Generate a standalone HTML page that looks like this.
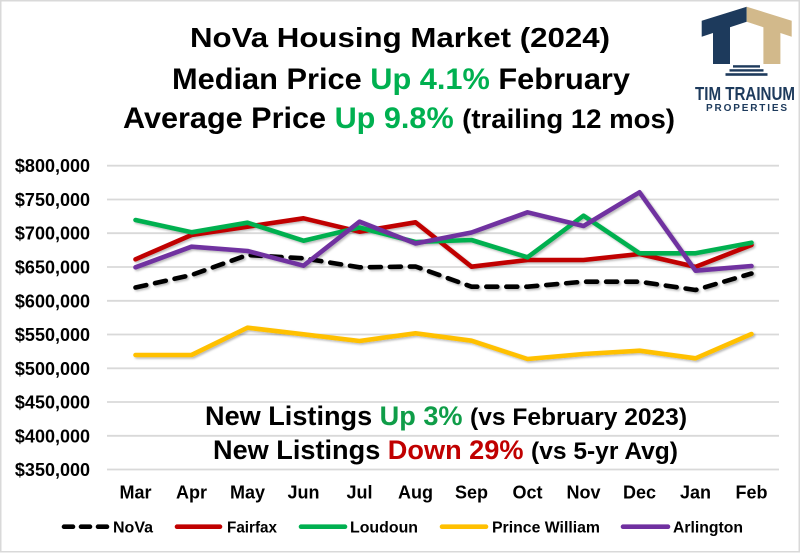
<!DOCTYPE html>
<html><head><meta charset="utf-8"><style>
html,body{margin:0;padding:0;background:#fff;}
svg{display:block;}
text{font-family:"Liberation Sans",Arial,sans-serif;font-weight:bold;}
</style></head><body>
<svg width="800" height="553" viewBox="0 0 800 553" xmlns="http://www.w3.org/2000/svg">
<defs>
<filter id="sh" x="-5%" y="-20%" width="110%" height="140%">
<feDropShadow dx="1.5" dy="1.5" stdDeviation="1" flood-color="#000" flood-opacity="0.28"/>
</filter>
</defs>
<rect x="0.75" y="0.75" width="798.5" height="551" fill="#fff" stroke="#d9d9d9" stroke-width="1.5"/>

<!-- Title -->
<text x="190" y="47" font-size="28" fill="#000" textLength="420" lengthAdjust="spacingAndGlyphs">NoVa Housing Market (2024)</text>
<text x="172" y="89" font-size="30" fill="#000" textLength="458" lengthAdjust="spacingAndGlyphs">Median Price <tspan fill="#00b050">Up 4.1%</tspan> February</text>
<text x="123" y="128" font-size="30" fill="#000" textLength="552" lengthAdjust="spacingAndGlyphs">Average Price <tspan fill="#00b050">Up 9.8%</tspan> <tspan font-size="27">(trailing 12 mos)</tspan></text>

<!-- Logo -->
<polygon points="701.7,20.7 746.7,6.7 746.7,21.7 730,27.3 730,64 713,64 713,33 701.7,36.7" fill="#1d3a5c"/>
<polygon points="791.7,20.7 746.7,6.7 746.7,21.7 763.4,27.3 763.4,64 780.4,64 780.4,33 791.7,36.7" fill="#d2b98b"/>
<rect x="733" y="65.2" width="27" height="2.4" fill="#1d3a5c"/>
<rect x="729.5" y="69.2" width="34" height="2.4" fill="#1d3a5c"/>
<rect x="725.5" y="73.2" width="42" height="2.6" fill="#1d3a5c"/>
<text x="695" y="100" font-size="18" fill="#1d3a5c" textLength="100" lengthAdjust="spacingAndGlyphs">TIM TRAINUM</text>
<text x="706" y="111" font-size="10" fill="#1d3a5c" textLength="81" lengthAdjust="spacing">PROPERTIES</text>

<!-- Gridlines -->
<g stroke="#d9d9d9" stroke-width="1.8">
<line x1="107" x2="779" y1="165.7" y2="165.7"/>
<line x1="107" x2="779" y1="199.5" y2="199.5"/>
<line x1="107" x2="779" y1="233.2" y2="233.2"/>
<line x1="107" x2="779" y1="267.0" y2="267.0"/>
<line x1="107" x2="779" y1="300.8" y2="300.8"/>
<line x1="107" x2="779" y1="334.5" y2="334.5"/>
<line x1="107" x2="779" y1="368.3" y2="368.3"/>
<line x1="107" x2="779" y1="402.0" y2="402.0"/>
<line x1="107" x2="779" y1="435.8" y2="435.8"/>
<line x1="107" x2="779" y1="469.5" y2="469.5"/>
</g>

<!-- Y labels -->
<g font-size="18" fill="#000" text-anchor="end">
<text x="90" y="172.2">$800,000</text>
<text x="90" y="206.0">$750,000</text>
<text x="90" y="239.7">$700,000</text>
<text x="90" y="273.5">$650,000</text>
<text x="90" y="307.3">$600,000</text>
<text x="90" y="341.0">$550,000</text>
<text x="90" y="374.8">$500,000</text>
<text x="90" y="408.5">$450,000</text>
<text x="90" y="442.3">$400,000</text>
<text x="90" y="476.0">$350,000</text>
</g>

<!-- X labels -->
<g font-size="18" fill="#000" text-anchor="middle">
<text x="135.5" y="498.5">Mar</text>
<text x="191.5" y="498.5">Apr</text>
<text x="247.5" y="498.5">May</text>
<text x="303.5" y="498.5">Jun</text>
<text x="359.5" y="498.5">Jul</text>
<text x="415.5" y="498.5">Aug</text>
<text x="471.5" y="498.5">Sep</text>
<text x="527.5" y="498.5">Oct</text>
<text x="583.5" y="498.5">Nov</text>
<text x="639.5" y="498.5">Dec</text>
<text x="695.5" y="498.5">Jan</text>
<text x="751.5" y="498.5">Feb</text>
</g>

<!-- Series -->
<g fill="none" stroke-width="4.6" stroke-linejoin="round" filter="url(#sh)">
<polyline stroke="#000" stroke-dasharray="11 9" stroke-linecap="round" points="135.5,287.5 191.5,275 247.5,255 303.5,258.3 359.5,267.3 415.5,266.5 471.5,286.7 527.5,286.7 583.5,281.7 639.5,281.7 695.5,290 751.5,273.5"/>
<polyline stroke="#c00000" stroke-linecap="round" points="135.5,259.3 191.5,235 247.5,226.7 303.5,218.3 359.5,231.7 415.5,222.3 471.5,266.7 527.5,260 583.5,260 639.5,254 695.5,266.9 751.5,245"/>
<polyline stroke="#00b050" stroke-linecap="round" points="135.5,220 191.5,232.3 247.5,222.7 303.5,240.7 359.5,227.5 415.5,242 471.5,240 527.5,257.3 583.5,215.7 639.5,253.3 695.5,253.3 751.5,242.7"/>
<polyline stroke="#ffc000" stroke-linecap="round" points="135.5,355 191.5,355 247.5,327.7 303.5,334.3 359.5,341 415.5,333.3 471.5,340.7 527.5,359 583.5,354 639.5,350.7 695.5,358.3 751.5,334"/>
<polyline stroke="#7030a0" stroke-linecap="round" points="135.5,267.3 191.5,246.7 247.5,251 303.5,265.7 359.5,221.7 415.5,243.5 471.5,232.5 527.5,212.3 583.5,226 639.5,192.3 695.5,270.7 751.5,266"/>
</g>

<!-- Annotation -->
<text x="205" y="425" font-size="26.5" fill="#000" textLength="482" lengthAdjust="spacingAndGlyphs">New Listings <tspan fill="#0f9d48">Up 3%</tspan> <tspan font-size="24">(vs February 2023)</tspan></text>
<text x="213" y="459" font-size="26.5" fill="#000" textLength="465" lengthAdjust="spacingAndGlyphs">New Listings <tspan fill="#c00000">Down 29%</tspan> <tspan font-size="24">(vs 5-yr Avg)</tspan></text>

<!-- Legend -->
<g stroke-width="4.6" stroke-linecap="round">
<line x1="64" x2="108" y1="526.7" y2="526.7" stroke="#000" stroke-dasharray="9 8"/>
<line x1="177" x2="220" y1="526.7" y2="526.7" stroke="#c00000"/>
<line x1="301" x2="345" y1="526.7" y2="526.7" stroke="#00b050"/>
<line x1="442" x2="486" y1="526.7" y2="526.7" stroke="#ffc000"/>
<line x1="623" x2="668" y1="526.7" y2="526.7" stroke="#7030a0"/>
</g>
<g font-size="16" fill="#000">
<text x="113" y="532.5" textLength="40" lengthAdjust="spacingAndGlyphs">NoVa</text>
<text x="227" y="532.5" textLength="50" lengthAdjust="spacingAndGlyphs">Fairfax</text>
<text x="350" y="532.5" textLength="68" lengthAdjust="spacingAndGlyphs">Loudoun</text>
<text x="492" y="532.5" textLength="108" lengthAdjust="spacingAndGlyphs">Prince William</text>
<text x="673" y="532.5" textLength="70" lengthAdjust="spacingAndGlyphs">Arlington</text>
</g>
</svg>
</body></html>
